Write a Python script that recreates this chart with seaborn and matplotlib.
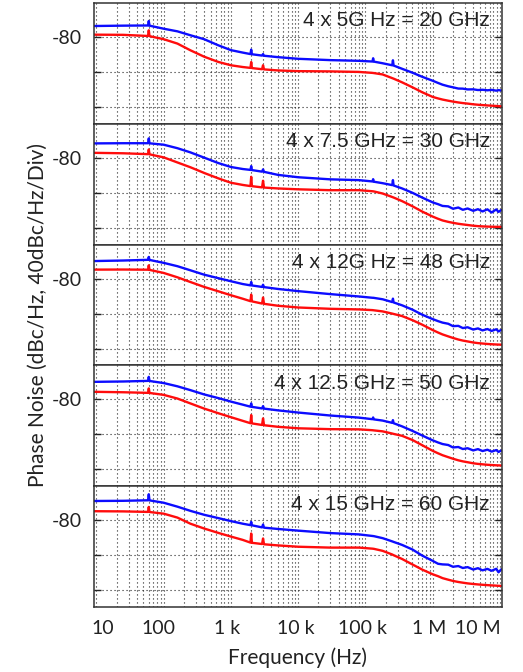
import numpy as np
import pandas as pd
import matplotlib
matplotlib.use("Agg")
import matplotlib.pyplot as plt
import matplotlib.transforms as mtransforms
from matplotlib.ticker import LogLocator, NullFormatter
import seaborn as sns

sns.set_style("white")
plt.rcParams["font.family"] = ["Lato", "DejaVu Sans"]

# Offset frequency grid (Hz); narrow triplets around 60 Hz, 2 kHz, 3 kHz,
# 130 kHz and 256 kHz carry the spurs.
freq_hz = [9.3, 25, 58.5, 60, 61.5, 100, 160, 250, 400, 650,
           1000, 1500, 1950, 2000, 2050, 2900, 3000, 3100, 5000, 1e4,
           3e4, 8e4, 1.27e5, 1.30e5, 1.33e5, 1.8e5, 2.5e5, 2.56e5, 2.62e5, 3.5e5,
           5e5, 7e5, 1e6, 1.2e6, 1.4e6, 1.7e6, 2e6, 2.4e6, 2.8e6, 3.3e6,
           4e6, 4.7e6, 5.5e6, 6.5e6, 7.5e6, 8.8e6, 9.5e6, 10.5e6]

carrier_labels = ["4 x 5G Hz = 20 GHz",
                  "4 x 7.5 GHz = 30 GHz",
                  "4 x 12G Hz = 48 GHz",
                  "4 x 12.5 GHz = 50 GHz",
                  "4 x 15 GHz = 60 GHz"]

# Multiplied output (upper trace), dBc/Hz
out_20g = [-67.4, -67.0, -66.8, -61.7, -67.0, -70.5, -73.5, -78.0, -82.5, -89.5,
           -95.0, -97.8, -99.5, -94.4, -99.7, -101.2, -99.5, -101.4, -103.0, -104.9,
           -106.4, -107.2, -108.0, -104.3, -108.1, -110.0, -112.3, -106.6, -112.6, -116.3,
           -120.8, -125.5, -130.0, -132.5, -134.5, -136.3, -137.5, -138.9, -139.0, -139.9,
           -139.8, -140.6, -140.3, -140.9, -140.4, -141.3, -140.7, -141.1]
out_30g = [-63.5, -63.3, -63.3, -57.8, -63.4, -65.0, -69.0, -73.8, -79.8, -86.0,
           -90.5, -92.8, -93.8, -89.5, -94.0, -95.8, -93.2, -96.0, -99.5, -102.2,
           -104.6, -105.5, -107.0, -104.4, -107.3, -109.0, -111.2, -105.5, -111.6, -115.0,
           -120.0, -125.5, -131.0, -133.0, -135.0, -135.5, -138.2, -136.8, -139.4, -137.9,
           -140.6, -138.7, -141.3, -138.9, -142.5, -139.0, -141.8, -139.6]
out_48g = [-59.9, -59.3, -58.5, -55.2, -58.6, -62.0, -65.8, -70.5, -75.5, -79.5,
           -83.0, -86.2, -87.7, -83.9, -87.8, -89.5, -87.0, -89.7, -91.8, -94.3,
           -97.7, -100.4, -101.9, -101.9, -102.0, -103.6, -106.8, -102.9, -107.2, -110.5,
           -115.5, -121.3, -126.3, -128.6, -130.3, -131.6, -134.3, -134.0, -136.5, -135.6,
           -138.2, -136.9, -139.2, -137.6, -139.8, -137.9, -140.3, -138.6]
out_50g = [-59.9, -59.5, -58.8, -54.2, -58.9, -61.3, -65.0, -69.4, -74.3, -78.5,
           -82.5, -86.0, -88.3, -84.6, -88.5, -90.3, -87.7, -90.5, -92.5, -95.0,
           -98.4, -100.8, -102.6, -100.6, -102.8, -104.2, -106.8, -103.7, -107.2, -110.8,
           -116.0, -121.3, -126.8, -129.2, -131.0, -132.2, -134.9, -134.4, -136.7, -135.8,
           -138.3, -136.8, -139.0, -137.5, -139.7, -137.9, -140.0, -138.4]
out_60g = [-58.0, -57.8, -57.2, -50.3, -57.3, -60.0, -64.5, -69.3, -73.8, -77.6,
           -81.0, -84.0, -85.6, -81.9, -85.8, -88.2, -84.9, -88.5, -90.0, -91.9,
           -94.7, -96.2, -98.0, -98.1, -98.2, -100.5, -104.2, -104.5, -104.8, -108.2,
           -113.5, -120.5, -126.5, -129.8, -130.5, -130.8, -133.2, -132.4, -134.6, -133.6,
           -136.4, -134.8, -137.3, -135.6, -137.8, -135.5, -139.5, -136.0]

# Reference (lower trace), dBc/Hz
ref_20g = [-77.3, -77.5, -78.8, -72.3, -79.0, -82.5, -87.5, -95.2, -102.5, -108.5,
           -112.3, -114.3, -115.3, -108.6, -115.5, -116.8, -112.3, -117.0, -118.2, -119.0,
           -119.3, -119.9, -121.0, -121.1, -121.2, -122.8, -127.0, -127.3, -127.6, -131.8,
           -137.5, -143.2, -148.5, -150.2, -151.5, -152.8, -153.8, -154.8, -155.5, -156.1,
           -156.9, -157.4, -157.8, -158.2, -158.5, -158.8, -159.0, -159.2]
ref_30g = [-74.3, -74.8, -75.8, -70.4, -76.0, -79.5, -85.3, -90.8, -97.3, -103.5,
           -108.5, -111.0, -112.3, -101.7, -112.4, -113.8, -106.2, -114.0, -115.0, -116.0,
           -117.0, -117.0, -118.2, -118.3, -118.4, -120.8, -124.8, -125.1, -125.4, -129.5,
           -135.4, -141.5, -147.2, -149.7, -151.6, -153.2, -154.3, -155.4, -156.1, -156.8,
           -157.6, -158.1, -158.4, -158.6, -158.8, -158.9, -158.9, -158.9]
ref_48g = [-69.7, -69.6, -69.8, -64.8, -70.0, -73.5, -78.5, -83.9, -89.5, -94.5,
           -99.0, -103.0, -105.8, -98.3, -106.0, -108.5, -101.6, -108.8, -111.0, -113.0,
           -114.5, -115.2, -116.0, -116.1, -116.2, -117.5, -120.0, -120.2, -120.4, -122.8,
           -127.5, -132.7, -138.8, -141.6, -143.8, -146.0, -147.8, -149.6, -150.8, -151.8,
           -153.0, -153.7, -154.2, -154.7, -155.0, -155.3, -155.4, -155.5]
ref_50g = [-71.3, -71.8, -72.5, -67.4, -72.6, -74.8, -79.0, -84.6, -90.5, -95.8,
           -100.3, -104.5, -107.2, -97.9, -107.4, -109.2, -101.7, -109.5, -111.3, -113.0,
           -114.0, -114.2, -115.2, -115.3, -115.4, -116.5, -119.0, -119.2, -119.4, -121.6,
           -126.4, -132.4, -138.8, -141.6, -143.8, -146.0, -147.8, -149.6, -150.8, -151.8,
           -153.0, -153.7, -154.2, -154.7, -155.0, -155.3, -155.4, -155.5]
ref_60g = [-69.7, -69.9, -70.5, -64.8, -70.6, -72.5, -77.0, -84.0, -89.5, -94.5,
           -98.7, -102.5, -105.6, -95.2, -105.8, -107.2, -100.9, -107.5, -108.8, -110.3,
           -111.3, -111.3, -112.5, -112.6, -112.7, -115.0, -119.2, -119.6, -120.0, -124.3,
           -130.6, -136.5, -141.8, -144.0, -146.2, -148.0, -149.4, -150.6, -151.4, -152.2,
           -152.9, -153.4, -153.8, -154.2, -154.5, -154.8, -155.0, -155.1]

upper_traces = [out_20g, out_30g, out_48g, out_50g, out_60g]
lower_traces = [ref_20g, ref_30g, ref_48g, ref_50g, ref_60g]

x_ticks = [10, 100, 1e3, 1e4, 1e5, 1e6, 1e7]
x_tick_labels = ["10", "100", "1 k", "10 k", "100 k", "1 M", "10 M"]
y_ticks = [-80, -120, -160]
y_tick_labels = ["-80", "", ""]

BLUE = "#0c0cff"
RED = "#ff0c0c"
GRID_STYLE = dict(linestyle=(0, (1, 2.6)), linewidth=0.8, color="#222222")

W, H = 523, 672
fig, axes = plt.subplots(5, 1, figsize=(W / 100, H / 100), dpi=100, sharex=True)
fig.subplots_adjust(left=94 / W, right=501.7 / W, top=1 - 3 / H,
                    bottom=1 - 607 / H, hspace=0)

for ax, label, upper, lower in zip(axes, carrier_labels, upper_traces, lower_traces):
    df = pd.DataFrame({"freq": freq_hz, "upper": upper, "lower": lower})
    ax.set_xscale("log")
    sns.lineplot(data=df, x="freq", y="upper", ax=ax, color=BLUE, lw=1.7,
                 estimator=None, sort=False)
    sns.lineplot(data=df, x="freq", y="lower", ax=ax, color=RED, lw=1.7,
                 estimator=None, sort=False)

    ax.set_xlim(9.2, 1.06e7)
    ax.set_ylim(-179.2, -41.1)
    ax.set_xlabel("")
    ax.set_ylabel("")

    ax.xaxis.set_minor_locator(LogLocator(base=10, subs=np.arange(2, 10)))
    ax.xaxis.set_minor_formatter(NullFormatter())
    ax.set_yticks(y_ticks)
    ax.set_yticklabels(y_tick_labels)

    ax.grid(True, which="both", axis="x", **GRID_STYLE)
    ax.grid(True, which="major", axis="y", **GRID_STYLE)
    ax.set_axisbelow(True)

    ax.tick_params(axis="y", direction="in", length=5, width=1.0,
                   left=True, right=True, labelsize=14, pad=9, colors="#222222")
    ax.tick_params(axis="x", which="both", length=0)

    for sp in ax.spines.values():
        sp.set_linewidth(1.1)
        sp.set_color("#333333")

    ax.text(0.971, 0.851, label, transform=ax.transAxes, ha="right",
            va="center", fontsize=15, color="#222222",
            family=["Liberation Sans", "DejaVu Sans"])

bottom_ax = axes[-1]
bottom_ax.set_xticks(x_ticks)
bottom_ax.set_xticklabels(x_tick_labels, fontsize=14, color="#222222")
bottom_ax.tick_params(axis="x", which="major", pad=9)

# nudge the outermost labels so they stay within the axis span
label_shift_px = [6, -5, -4, -2, -3, -4, -22]
for tl, dx in zip(bottom_ax.get_xticklabels(), label_shift_px):
    tl.set_transform(tl.get_transform() +
                     mtransforms.ScaledTranslation(dx / 100, 0, fig.dpi_scale_trans))

fig.text(297 / W, 1 - 658 / H, "Frequency (Hz)", ha="center", va="center",
         fontsize=15, color="#222222")
fig.text(38 / W, 1 - 315 / H, "Phase Noise (dBc/Hz, 40dBc/Hz/Div)",
         ha="center", va="center", rotation=90, fontsize=15, color="#222222")

fig.savefig("out.png", dpi=100, facecolor="white")
